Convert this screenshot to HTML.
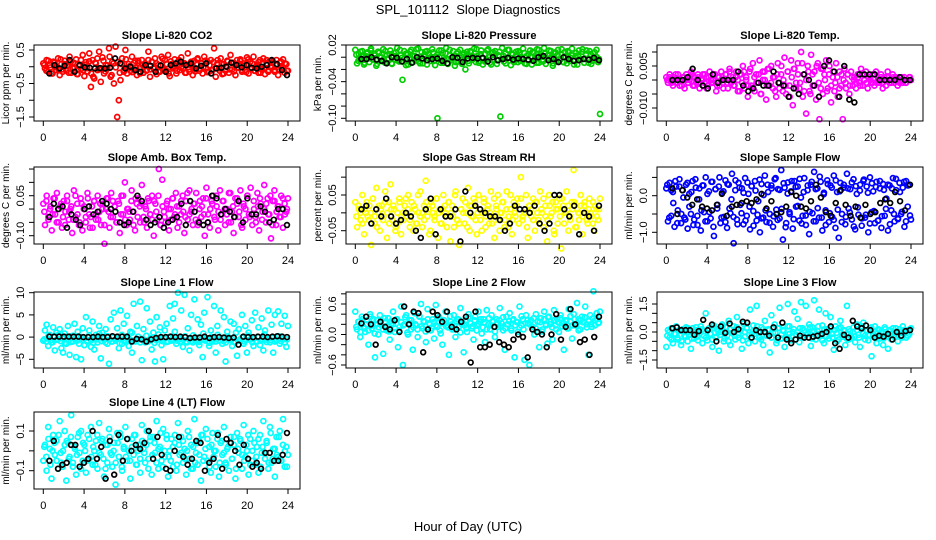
<!DOCTYPE html>
<html><head><meta charset="utf-8"><style>
html,body{margin:0;padding:0;background:#fff}
svg{display:block;font-family:"Liberation Sans",sans-serif}
</style></head><body>
<svg id="chart" width="936" height="540" viewBox="0 0 936 540">
<text x="468" y="14" text-anchor="middle" font-size="13" xml:space="preserve">SPL_101112  Slope Diagnostics</text>
<text x="468" y="531" text-anchor="middle" font-size="13">Hour of Day (UTC)</text>
</svg>
<script>
const hourTicks = [0,4,8,12,16,20,24];
const co2Vals = [10,-5,20,-15,5,-20,15,0,-10,25,-25,8,-8,18,-12,3,30,-18,12,-3,22,-22,6,-6,35,-28,14,-14,40,-60,20,-35,10,-10,45,-45,28,-20,5,-5,55,-30,15,-50,60,-150,-100,-40,25,-15,50,-20,8,-12,30,-8,18,-25,12,-3,20,-18,10,-10,45,-30,15,-5,25,-22,5,-15,30,-8,20,-12,35,-28,8,0,22,-20,15,-10,28,-5,10,-18,40,-15,5,-25,18,-8,25,-12,12,-20,30,-3,15,-15,20,-10,55,-30,10,-5,25,-22,8,-12,18,-18,35,-8,12,-25,20,-3,22,-15,10,-10,28,-20,15,-5,30,-12,5,-18,20,-8,25,-22,10,-15,18,-3,15,-10,20,-25,12,-5,22,-18,8,-12];
const co2Vals2 = [5,-12,18,-2,-20,12,0,-8,22,-15,8,3,-18,15,-5,10,-22,2,20,-10,6,-4,16,-20,-30,12,25,-8,-5,18,-14,4,30,-25,10,-2,14,-18,8,-10,22,-6,2,-16,12,-4,18,-20,6,0,-12,20,-8,14,-2,10,-15,4,24,-10,8,-20,16,-5,2,-12,20,-3,12,-18,6,-8,15,0,-14,22,-6,10,-2,18,-16,4,-10,14,-4,20,-12,8,-20,2,16,-8,12,-14,6,-2,18,-10,4,-16,22,-6,10,-12,0,14,-18,8,-4,20,-10,2,12,-15,6,-8,16,-2,10,-12];
const co2Blk = [-20,5,-5,3,20,-15,5,-2,-3,-5,-4,-5,-3,25,10,-5,0,-10,-15,5,3,-15,4,-15,5,10,15,5,10,-5,3,10,-20,-5,-3,0,12,5,-2,5,-3,-5,0,5,20,8,-10,-25];
const presVals = [12,-10,5,-5,10,-12,2,8,-8,14,-3,6,-14,9,0,-6,13,-9,4,-2,11,-11,7,-4,15,-7,3,-37,10,-13,6,-1,12,-8,2,-5,14,-10,8,-3,9,-12,5,0,13,-6,1,-100,11,-9,7,-4,15,-11,3,-2,10,-14,6,-7,12,-5,4,-20,9,-10,8,-1,14,-8,2,-6,11,-12,5,-3,13,-9,7,-4,10,-11,3,-97,15,-7,6,-2,12,-13,4,-5,9,-8,8,-1,14,-10,2,-6,11,-12,7,-3,13,-9,5,-4,15,-11,3,-2,10,-14,6,-7,12,-5,4,-8,9,-10,8,-1,14,-6,2,-12,11,-3,13,-9,5,-4,10,-11,7,-2,12,-8,-93];
const presVals2 = [4,-6,9,1,-9,6,-2,11,-4,3,-11,7,0,-7,10,-3,5,-10,2,8,-5,12,-1,-8,6,-12,9,3,-4,13,-7,1,-10,5,10,-2,-6,8,-13,4,0,11,-9,6,-3,12,-5,2,-8,9,-1,-11,7,3,-6,10,-4,1,13,-9,5,-2,-7,11,0,-12,8,4,-5,9,-3,2,-10,12,-1,6,-8,3,10,-6,-2,7,-11,5,1,9,-4,-9,12,2,-7,6,-3,11,-1,-10,8,4,-5,13,-8,0,10,-6,3,-12,7,1,-4,9,-2,11,-9,5,-6,8,0,-3];
const presBlk = [-3,-3,0,-4,-6,-10,0,-1,-7,-3,-9,0,-2,-5,-3,-2,-6,-10,0,-1,-8,-2,-1,-2,-1,-7,0,-5,-3,-1,-4,-2,-3,-4,-6,0,2,-5,-3,-8,0,-3,-6,-5,-3,-4,-1,-5];
const tempVals = [1,-1,2,0,-2,1,-1,2,-2,0,1,-3,2,-1,0,3,-2,1,-1,2,-3,0,2,-1,1,-2,3,-1,0,2,-4,1,-2,3,-1,0,2,-3,4,-1,1,-2,3,0,-4,2,5,-3,1,-6,3,-2,6,-4,2,-1,7,-5,0,3,-7,4,-2,5,-3,1,-6,6,-1,2,-4,8,-5,3,-2,7,-9,4,-1,6,-3,10,-6,2,-12,5,-4,9,-2,3,-7,6,-14,4,-5,2,7,-3,5,-8,1,-4,6,-6,3,-2,-14,4,-3,2,-5,3,-2,1,-3,2,-1,4,-2,0,3,-3,1,-1,2,-2,3,0,-1,2,-3,1,-2,3,-1,0,2,-1,1,-2,1,0,-1,1,-1,0,1,0];
const tempVals2 = [0,1,-1,0,2,-1,0,-2,1,0,-1,1,2,-2,0,1,-1,0,2,-3,1,0,-1,2,-2,1,0,-3,2,-1,3,0,-2,1,-4,2,-1,3,0,-2,4,-3,1,-1,2,-5,3,0,-2,4,-1,1,-4,2,-3,5,0,-2,3,-6,1,4,-3,2,-1,6,-4,0,3,-5,2,-2,5,-1,-3,4,0,-4,2,-2,3,-1,1,-3,2,0,-1,2,-2,1,0,-1,1,-2,2,0,-1,1,0,-1,2,-1,0,1,-1,0,1,0,-1,1,0,0,-1,1,0,-1,0,1];
const tempBlk = [0,0,0,1,4,0,-2,-3,2,-1,0,0,0,3,-2,-4,-3,-1,-2,-2,3,-1,-2,-6,-3,-5,2,0,-2,-6,5,7,3,-6,5,-7,-8,2,2,2,2,0,0,0,0,1,0,0];
const ambVals = [2,-6,5,-3,0,-8,4,-2,6,-5,1,-7,3,-1,5,-4,0,-9,7,-3,2,-6,4,-8,1,-5,6,-2,-3,-7,3,-4,5,-1,-6,2,-13,0,4,-7,6,-3,1,-5,3,-9,5,-2,10,-6,0,-4,7,-1,-8,2,4,-5,9,-3,1,-7,3,-2,5,-10,2,-4,15,-6,11,-1,-5,3,-8,0,4,-3,6,-7,1,-2,5,-9,3,-4,7,-1,-6,2,6,-5,0,-3,4,-10,8,-2,-7,3,5,-4,1,-8,7,-2,3,-6,0,-5,6,-1,-9,4,2,-3,7,-7,1,-4,5,-2,8,-6,0,-3,6,-8,2,-1,9,-5,4,-2,-11,3,7,-6,1,-3,5,-7,2,-1,4];
const ambVals2 = [-1,3,-4,1,-2,4,-5,0,2,-3,-6,3,-1,1,-4,5,-2,-5,2,0,-3,4,-7,1,3,-2,-4,2,0,-6,4,-1,-3,3,1,-5,2,-2,5,-4,0,-1,3,-6,4,-3,1,2,-5,0,4,-2,-4,3,-1,5,-6,1,-3,2,0,-4,4,-2,1,-5,3,-1,-3,6,-2,0,2,-4,-6,3,1,-2,4,-5,0,2,-3,5,-1,-4,3,0,-2,6,-5,1,-3,4,-1,-6,2,0,5,-3,-2,3,-5,1,4,-4,0,2,-2,5,-6,3,-1,1,-3,4,-2,0];
const ambBlk = [-3,2,0,1,-7,-2,-4,-6,0,1,-2,-1,3,2,0,-1,-5,-6,-5,-1,5,3,-4,-6,-5,-3,-7,-5,-4,-3,2,-6,3,-1,-5,-6,-5,5,4,-2,0,-1,-3,3,-5,4,-2,-2,1,-1,-5,-4,0,0,-6];
const rhVals = [3,-4,1,-2,5,-6,0,-1,2,-9,4,-3,7,0,-5,2,-1,6,-7,3,8,-2,1,-4,-3,4,-6,0,2,-1,5,-2,3,-5,1,-3,0,6,-4,2,9,-1,-6,3,0,-2,4,-7,1,-3,5,0,-1,3,-8,2,-4,6,-2,-9,1,4,-3,0,7,-5,2,-1,3,-6,5,-2,0,4,-4,1,-3,6,-1,-7,2,5,-5,0,3,-2,6,-4,1,-6,3,-1,4,-3,10,-2,0,5,-7,2,-1,4,-5,3,-2,6,0,-4,2,-8,5,-1,3,-6,1,-3,4,-10,2,0,6,-5,-1,3,12,-4,1,-2,5,-6,2,0,-3,4,-1,3,-5,1,-2,4];
const rhVals2 = [-1,2,0,-3,1,3,-2,0,4,-1,-4,2,1,-2,3,0,-3,1,2,-5,0,3,-1,-2,4,1,-4,0,2,-3,5,-1,0,-2,3,1,-5,2,-1,4,0,-3,1,2,-4,3,0,-1,5,-2,-3,1,0,3,-4,2,-1,4,-2,0,1,-5,3,-1,2,0,-3,4,1,-2,0,3,-4,1,-1,5,-2,0,2,-3,4,-1,0,-4,2,1,-2,3,0,-3,1,4,-1,-2,2,0,-5,3,1,-1,4,-3,0,2,-2,1,3,-4,0,2,-1,3,-2,1,0,-3,2,-1,1];
const rhBlk = [1,2,-3,1,-1,4,-1,-3,-2,0,-1,-5,-7,1,4,-6,1,-1,-1,1,-8,6,0,2,1,0,-1,-1,-2,-5,-3,2,1,1,0,2,-3,-5,-3,5,5,1,-1,2,-6,0,-1,-5,2];
const sampVals = [20,-70,35,-55,10,-85,25,-40,45,-75,15,-60,30,-90,5,-50,40,-65,22,-80,-10,-95,28,-45,50,-70,12,-62,38,-110,18,-35,25,-75,8,-58,42,-88,30,-48,60,-130,15,-65,35,-25,20,-78,48,-55,5,-92,26,-42,40,-68,-15,-100,32,-60,55,-72,10,-50,28,-85,45,-38,18,-62,70,-120,22,-75,36,-45,12,-90,40,-30,25,-68,-5,-55,48,-80,15,-105,30,-48,65,-70,20,-60,38,-95,8,-40,42,-72,28,-58,55,-88,10,-115,35,-50,22,-78,60,-35,18,-65,45,-92,5,-52,30,-82,40,-60,25,-100,50,-45,12,-75,38,-68,20,-88,32,-55,-8,-95,28,-40,48,-70,15,-62,35,-50,22,-85,40,-30,30,-65];
const sampVals2 = [30,-60,15,-20,40,-75,25,-50,-5,-65,35,-30,10,-80,45,-55,20,-40,28,-70,5,-45,38,-85,18,-25,50,-60,12,-72,32,-35,-10,-58,42,-78,22,-48,8,-68,36,-30,26,-82,14,-52,44,-62,2,-40,30,-74,20,-56,48,-66,16,-36,34,-86,6,-50,40,-64,24,-28,46,-76,10,-54,28,-44,38,-70,18,-34,52,-60,4,-80,32,-48,22,-66,42,-38,12,-72,30,-58,20,-46,36,-84,26,-32,14,-62,44,-52,8,-76,34,-42,24,-68,40,-56,16,-36,30,-78,20,-50,46,-64,10,-44,38,-70,28,-54];
const sampBlk = [20,-50,15,-5,-25,-10,-30,-35,-40,-25,5,-55,-30,-25,-20,-15,-20,-10,5,-35,-15,-50,-45,-30,10,0,-30,-35,-15,30,-5,-45,-55,-20,15,-25,-55,-30,-60,-25,-50,-45,-20,-10,-20,10,-15,-40,30];
const l1Vals = [-8,15,28,-20,5,-12,22,-30,10,-5,18,-25,-35,8,-15,25,-40,2,-10,30,-45,12,-5,-50,20,-18,45,-8,15,-22,35,-28,5,-12,25,-48,10,-3,18,-15,-60,40,-10,55,-5,20,-25,60,-15,30,-8,48,-20,12,-35,75,-10,25,-5,80,-52,18,-12,65,-8,35,-28,10,-55,45,-5,22,-18,-50,15,30,-10,70,-8,42,75,-15,100,-5,60,-22,95,-10,20,-30,50,-12,85,-8,40,-18,28,-45,55,-5,90,-20,15,-10,70,-35,25,-8,60,-15,45,-55,12,-5,35,-20,30,-12,-42,18,-8,50,-15,25,-35,10,-5,38,-20,55,-10,22,-18,42,-30,15,-6,60,-12,28,-35,50,-8,58,-15,30,-5,48,-22,25];
const l1Vals2 = [-5,-10,2,-8,-12,0,-6,5,-9,-3,-14,1,-7,-11,3,-4,-8,-15,0,-6,-2,-10,4,-7,-13,-1,-5,8,-9,-4,-12,2,-6,-10,0,-8,-3,-14,5,-7,-11,-2,-5,10,-9,-6,1,-12,-4,-8,3,-10,-6,-1,-13,-7,6,-5,-9,-3,-11,0,-7,-4,12,-8,-2,-10,-6,2,-12,-5,-9,4,-7,-1,-11,-6,8,-8,-3,-13,0,-5,-10,5,-7,-2,-9,-12,1,-6,-4,-11,10,-8,-5,-1,-10,-7,3,-6,-12,-3,-9,0,-8,-5,6,-11,-4,-7,-2,-10,-6,2,-9,-3,-12,-5];
const l1Blk = [1,1,1,1,1,1,1,0,0,0,1,0,0,2,1,1,1,-10,-4,-5,-10,-5,-2,0,0,1,0,1,0,-2,-1,-1,1,-2,0,0,-1,-2,-1,-17,1,0,0,1,1,0,1,2,1,0];
const l2Vals = [45,10,25,-5,35,15,5,28,-20,40,12,30,-45,20,0,38,18,-38,25,8,32,-10,22,45,5,30,-25,15,55,-60,20,38,0,28,10,-30,42,18,-5,35,60,12,25,-15,50,22,8,30,-8,58,15,35,2,-20,28,45,18,-40,25,10,38,-5,30,15,52,20,-35,28,5,40,22,12,-10,35,18,45,25,2,30,-15,48,20,10,38,25,-5,30,15,52,22,8,-30,35,20,42,12,28,-45,25,5,55,18,30,-50,38,22,-60,28,15,0,40,25,-25,32,10,45,20,-18,35,25,-10,48,18,30,5,38,22,-30,28,12,50,25,-8,40,18,62,30,10,35,25,55,20,-40,38,15,85,28,42,22,45];
const l2Vals2 = [15,25,5,30,12,20,8,35,18,2,28,14,22,10,32,16,6,26,20,12,30,8,24,18,34,4,22,28,14,20,10,36,16,26,6,30,20,12,24,18,32,8,22,28,16,14,36,20,10,26,30,4,24,18,12,34,22,16,28,8,20,30,14,24,10,32,18,26,6,22,28,16,34,12,20,26,8,30,18,24,14,36,10,22,28,20,16,32,12,26,24,6,30,18,34,20,14,28,10,24,32,16,22,26,12,36,18,30,20,8,28,24,34,14,26,20,32,18,30,24];
const l2Blk = [22,35,20,-20,25,15,10,28,5,55,20,45,42,-35,10,45,38,25,45,15,10,25,35,-55,45,-25,-25,-20,15,-15,-20,-25,-10,0,-5,-45,10,5,0,-25,0,40,-10,15,50,20,-15,-10,-40,-5,35];
const l3Vals = [-80,10,-30,20,-60,-10,30,-40,5,-70,15,-20,25,-50,0,-90,20,-35,10,-25,-15,30,-60,5,100,-45,20,-10,-80,35,-30,15,-100,0,40,-50,25,-20,60,-70,-5,30,-40,80,-15,10,-90,45,-25,20,-60,120,-10,35,-50,140,0,-30,25,-70,60,-20,15,-110,90,-5,40,-60,20,130,-35,10,-80,-25,150,30,-45,0,110,-15,70,-55,160,20,-30,140,-10,40,-75,25,170,-40,5,120,-20,35,-60,100,15,-35,80,-10,-95,30,-50,20,60,-25,10,-70,140,-40,5,-30,25,-55,40,-15,-80,30,50,-20,10,-45,20,-130,-10,30,-60,15,-35,5,-70,25,-25,-90,10,-40,20,-15,-5,-50,15,-20,30,5,-30,10,-10,20];
const l3Vals2 = [-20,0,-40,15,-10,-30,10,-50,5,-25,20,-15,-35,0,25,-45,-5,15,-20,-30,10,-10,-40,20,-25,5,-15,30,-35,0,-50,15,-5,-20,25,-30,10,-45,0,20,-15,-35,5,-10,30,-25,-40,15,0,-20,10,-30,25,-5,-45,20,-15,5,-35,30,-10,-25,15,-40,0,20,-30,10,-15,-5,25,-35,5,-20,30,-10,-45,15,-25,0,20,-30,10,-5,-40,25,-15,5,-35,15,-20,0,-25,10,-30,20,-10,-40,5,-15,25,-20,0,-30,10,-5,-35,15,-20,5,-10,-25,20,-15,0,-30,10,-5,-20,15];
const l3Blk = [20,25,10,10,10,-15,5,65,10,40,-50,30,-5,45,0,15,55,50,-30,10,0,0,-20,25,-30,50,-40,-60,-40,-20,-30,-30,-25,-20,-10,0,30,-60,-90,-15,-30,60,30,20,35,10,-30,-20,-25,-10,-40,0,-20,5,10];
const l4Vals = [-5,3,-10,12,1,-14,8,-2,5,-9,15,-6,0,10,-15,4,-3,18,-8,2,-12,7,-1,10,-5,3,-11,8,-4,12,-7,0,5,-9,14,-2,6,-13,3,-6,11,-1,-8,4,-17,9,-3,7,-10,2,12,-5,0,-14,6,-2,8,-7,3,-11,13,1,-6,10,-4,5,-12,7,-1,15,-9,2,-5,11,-3,8,-13,0,6,-8,4,-10,14,-2,7,-6,1,-12,10,-4,3,-9,16,-1,-7,5,-15,8,-3,11,-5,2,-11,9,0,-8,6,-13,4,-2,12,-6,1,-10,7,-4,3,-14,9,-1,5,-9,13,-3,0,-12,6,-5,10,-7,2,-11,8,-1,15,-4,4,-9,12,-6,1,-13,7,-3,10,-5,16,-8,2,-2];
const l4Vals2 = [2,-3,6,-7,0,4,-5,8,-1,-8,3,5,-4,7,-6,1,-2,9,-9,4,0,-5,6,-3,2,-7,8,-1,5,-4,-9,3,7,-2,0,-6,4,9,-8,1,-3,6,-5,2,8,-7,0,-4,5,-1,3,-9,7,-2,4,-6,1,9,-8,0,6,-3,-5,2,8,-7,3,-1,5,-4,0,7,-9,2,-6,4,-2,8,-5,1,6,-8,3,-3,0,9,-6,5,-1,-7,2,4,-4,7,-9,1,6,-2,-5,3,8,-7,0,4,-3,6,-8,2,-1,5,-6,9,-4,1,-2,7,-5,3,0,-8];
const l4Blk = [-5,5,-9,-7,-6,3,3,-8,-6,-4,10,-4,2,-14,5,-12,8,-5,6,0,3,1,4,10,-4,7,-2,-9,-10,0,7,-3,-7,-4,5,4,-10,-6,-4,8,-9,6,4,0,-7,3,-4,-8,-6,-9,-1,-1,-5,-5,-2,9];

const tk1=[0.5,0,-0.5,-1,-1.5], lb1=["0.5","","\u22120.5","","\u22121.5"];
const tk2=[0.02,0,-0.02,-0.04,-0.06,-0.08,-0.10], lb2=["0.02","","","\u22120.04","","","\u22120.10"];
const tk3=[0.010,0.005,0,-0.005,-0.010], lb3=["","0.005","","","\u22120.010"];
const tk4=[0.15,0.10,0.05,0,-0.05,-0.10], lb4=["","","0.05","","","\u22120.10"];
const tk5=[0.10,0.05,0,-0.05], lb5=["","0.05","","\u22120.05"];
const tk6=[0.5,0,-0.5,-1], lb6=["","0.0","","\u22121.0"];
const tk7=[10,5,0,-5], lb7=["10","5","0","\u22125"];
const tk8=[0.8,0.6,0.4,0.2,0,-0.2,-0.4,-0.6], lb8=["","0.6","","","0.0","","","\u22120.6"];
const tk9=[1.5,1,0.5,0,-0.5,-1,-1.5], lb9=["1.5","","","0.0","","","\u22121.5"];
const tk10=[0.1,0,-0.1], lb10=["0.1","","\u22120.1"];

const colLeft=[34,346,657], rowTop=[45,167,292,412], rowBot=[121,244,368,489];
const panels=[
 {id:"co2",col:0,row:0,title:"Slope Li-820 CO2",ylab:"Licor ppm per min.",color:"#ff0000",vals:co2Vals,vals2:co2Vals2,blk:co2Blk,unit:0.01,ref:[0.5,50,-1.5,117],tk:tk1,lb:lb1},
 {id:"pressure",col:1,row:0,title:"Slope Li-820 Pressure",ylab:"kPa per min.",color:"#00cc00",vals:presVals,vals2:presVals2,blk:presBlk,unit:0.001,ref:[0.02,45,-0.10,118.3],tk:tk2,lb:lb2},
 {id:"temp",col:2,row:0,title:"Slope Li-820 Temp.",ylab:"degrees C per min.",color:"#ff00ff",vals:tempVals,vals2:tempVals2,blk:tempBlk,unit:0.001,ref:[0.005,66,-0.010,108],tk:tk3,lb:lb3},
 {id:"amb-box-temp",col:0,row:1,title:"Slope Amb. Box Temp.",ylab:"degrees C per min.",color:"#ff00ff",vals:ambVals,vals2:ambVals2,blk:ambBlk,unit:0.01,ref:[0.05,195.7,-0.10,235.7],tk:tk4,lb:lb4},
 {id:"gas-stream-rh",col:1,row:1,title:"Slope Gas Stream RH",ylab:"percent per min.",color:"#ffff00",vals:rhVals,vals2:rhVals2,blk:rhBlk,unit:0.01,ref:[0.05,195,-0.05,230.7],tk:tk5,lb:lb5},
 {id:"sample-flow",col:2,row:1,title:"Slope Sample Flow",ylab:"ml/min per min.",color:"#0000ff",vals:sampVals,vals2:sampVals2,blk:sampBlk,unit:0.01,ref:[0,195.7,-1,232.3],tk:tk6,lb:lb6},
 {id:"line1-flow",col:0,row:2,title:"Slope Line 1 Flow",ylab:"ml/min per min.",color:"#00ffff",vals:l1Vals,vals2:l1Vals2,blk:l1Blk,unit:0.1,ref:[10,292.7,-5,359.3],tk:tk7,lb:lb7},
 {id:"line2-flow",col:1,row:2,title:"Slope Line 2 Flow",ylab:"ml/min per min.",color:"#00ffff",vals:l2Vals,vals2:l2Vals2,blk:l2Blk,unit:0.01,ref:[0.6,304,-0.6,365],tk:tk8,lb:lb8},
 {id:"line3-flow",col:2,row:2,title:"Slope Line 3 Flow",ylab:"ml/min per min.",color:"#00ffff",vals:l3Vals,vals2:l3Vals2,blk:l3Blk,unit:0.01,ref:[1.5,304,-1.5,360],tk:tk9,lb:lb9},
 {id:"line4-flow",col:0,row:3,title:"Slope Line 4 (LT) Flow",ylab:"ml/min per min.",color:"#00ffff",vals:l4Vals,vals2:l4Vals2,blk:l4Blk,unit:0.01,ref:[0.1,431,-0.1,470.7],tk:tk10,lb:lb10}
];
const NS="http://www.w3.org/2000/svg";
const svg=document.getElementById('chart');
function mk(tag,attrs,parent){const e=document.createElementNS(NS,tag);for(const k in attrs)e.setAttribute(k,attrs[k]);(parent||svg).appendChild(e);return e;}
panels.forEach(p=>{
 const g=mk('g',{});
 
 
 const L=colLeft[p.col],R=L+266,T=rowTop[p.row],B=rowBot[p.row];
 const xs=h=>L+9.3+h*(244.7/24);
 const ys=v=>p.ref[1]+(v-p.ref[0])*(p.ref[3]-p.ref[1])/(p.ref[2]-p.ref[0]);
 const cx=(L+R)/2;
 const t=mk('text',{x:cx,y:T-6,'text-anchor':'middle','font-size':11,'font-weight':'bold'},g);t.textContent=p.title;
 
 
 const cy=(T+B)/2;
 const yl=mk('text',{x:0,y:0,'text-anchor':'middle','font-size':10,transform:`translate(${L-25},${cy}) rotate(-90)`},g);yl.textContent=p.ylab;
 
 
 const pg=mk('g',{fill:'none'},g);
 
 
 const n=p.vals.length;
 p.vals.forEach((v,i)=>{
  const c=mk('circle',{cx:xs(i*24/(n-1)),cy:ys(v*p.unit),r:2.5,stroke:p.color,'stroke-width':1.7},pg);
  
  
 });
 const n2=p.vals2.length;
 p.vals2.forEach((v,i)=>{
  const c=mk('circle',{cx:xs((i+0.5)*24/n2),cy:ys(v*p.unit),r:2.5,stroke:p.color,'stroke-width':1.7},pg);
  
  
 });
 const m=p.blk.length;
 p.blk.forEach((v,i)=>{
  const c=mk('circle',{cx:xs(0.6+i*23.3/(m-1)),cy:ys(v*p.unit),r:2.4,stroke:'#000','stroke-width':1.7},pg);
  
  
 });
 const box=mk('rect',{x:L,y:T,width:R-L,height:B-T,fill:'none',stroke:'#000','stroke-width':1},g);
 
 
 hourTicks.forEach(h=>{
  const x=xs(h);
  const tl=mk('line',{x1:x,y1:B,x2:x,y2:B+5,stroke:'#000'},g);
  
  
  const tx=mk('text',{x:x,y:B+20,'text-anchor':'middle','font-size':11},g);tx.textContent=h;
  
  
 });
 p.tk.forEach((v,i)=>{
  const y=ys(v);
  const tl=mk('line',{x1:L-5,y1:y,x2:L,y2:y,stroke:'#000'},g);
  
  
  if(p.lb[i]){
   const tx=mk('text',{x:0,y:0,'text-anchor':'middle','font-size':11,transform:`translate(${L-10},${y}) rotate(-90)`},g);tx.textContent=p.lb[i];
   
   
  }
 });
});
</script>
</body></html>
